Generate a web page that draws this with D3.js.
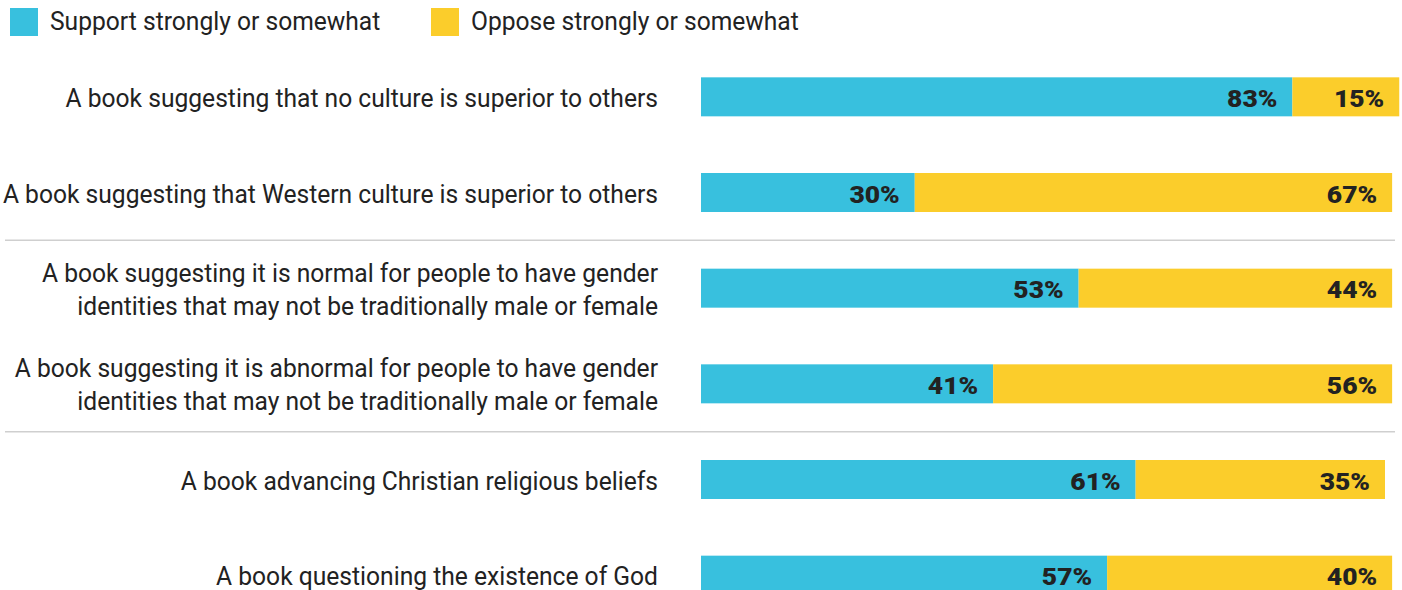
<!DOCTYPE html>
<html><head><meta charset="utf-8">
<script src="https://cdn.jsdelivr.net/npm/d3@7"></script>
<style>body{margin:0;background:#fff}svg{display:block}</style>
</head><body>
<script>
const categories = [
  ["A book suggesting that no culture is superior to others"],
  ["A book suggesting that Western culture is superior to others"],
  ["A book suggesting it is normal for people to have gender","identities that may not be traditionally male or female"],
  ["A book suggesting it is abnormal for people to have gender","identities that may not be traditionally male or female"],
  ["A book advancing Christian religious beliefs"],
  ["A book questioning the existence of God"]
];
const support = [83, 30, 53, 41, 61, 57];
const oppose  = [15, 67, 44, 56, 35, 40];
const seriesNames = ["Support strongly or somewhat", "Oppose strongly or somewhat"];
const colors = ["#38C0DE", "#FBCD2B"];
const separatorsAfter = [1, 3];

const W = 1402, H = 590;
const svg = d3.select("body").append("svg").attr("width", W).attr("height", H);
const font = "Roboto, 'Liberation Sans', sans-serif";

const x = d3.scaleLinear().domain([0, 100]).range([701, 1413.5]);
const y = d3.scaleBand().domain(d3.range(categories.length)).range([49, 623]).paddingInner(0.6).paddingOuter(0.3);
const bh = 39;

// legend
const lx = [10, 431];
seriesNames.forEach((n, i) => {
  svg.append("rect").attr("x", lx[i]).attr("y", 8).attr("width", 28).attr("height", 28).attr("fill", colors[i]);
  svg.append("text").attr("transform", `translate(${lx[i] + 40},30) scale(0.985,1)`).attr("font-family", font)
    .attr("font-size", 25).attr("fill", "#222").text(n);
});

// separators
separatorsAfter.forEach(i => {
  const yy = (y(i) + y.bandwidth()/2 + y(i+1) + y.bandwidth()/2) / 2;
  svg.append("line").attr("x1", 5).attr("x2", 1395).attr("y1", yy).attr("y2", yy)
    .attr("stroke", "#cfcfcf").attr("stroke-width", 1.5);
});

function valueLabel(g, xr, cy, v) {
  g.append("text").attr("transform", `translate(${xr - 15},${cy + 10.3}) scale(1.08,1)`)
    .attr("text-anchor", "end").attr("font-family", font).attr("font-weight", 900)
    .attr("font-size", 24.5).attr("fill", "#222").text(v + "%");
}

categories.forEach((lines, i) => {
  const cy = y(i) + y.bandwidth()/2;
  const g = svg.append("g");
  g.append("rect").attr("x", x(0)).attr("y", cy - bh/2).attr("width", x(support[i]) - x(0)).attr("height", bh).attr("fill", colors[0]);
  g.append("rect").attr("x", x(support[i])).attr("y", cy - bh/2).attr("width", x(support[i] + oppose[i]) - x(support[i])).attr("height", bh).attr("fill", colors[1]);
  valueLabel(g, x(support[i]), cy, support[i]);
  valueLabel(g, x(support[i] + oppose[i]), cy, oppose[i]);
  const lh = 33;
  lines.forEach((ln, j) => {
    const ty = cy + (j - (lines.length - 1)/2) * lh + 10;
    g.append("text").attr("transform", `translate(658,${ty}) scale(0.985,1)`).attr("text-anchor", "end")
      .attr("font-family", font).attr("font-size", 25).attr("fill", "#222").text(ln);
  });
});
</script>
</body></html>
